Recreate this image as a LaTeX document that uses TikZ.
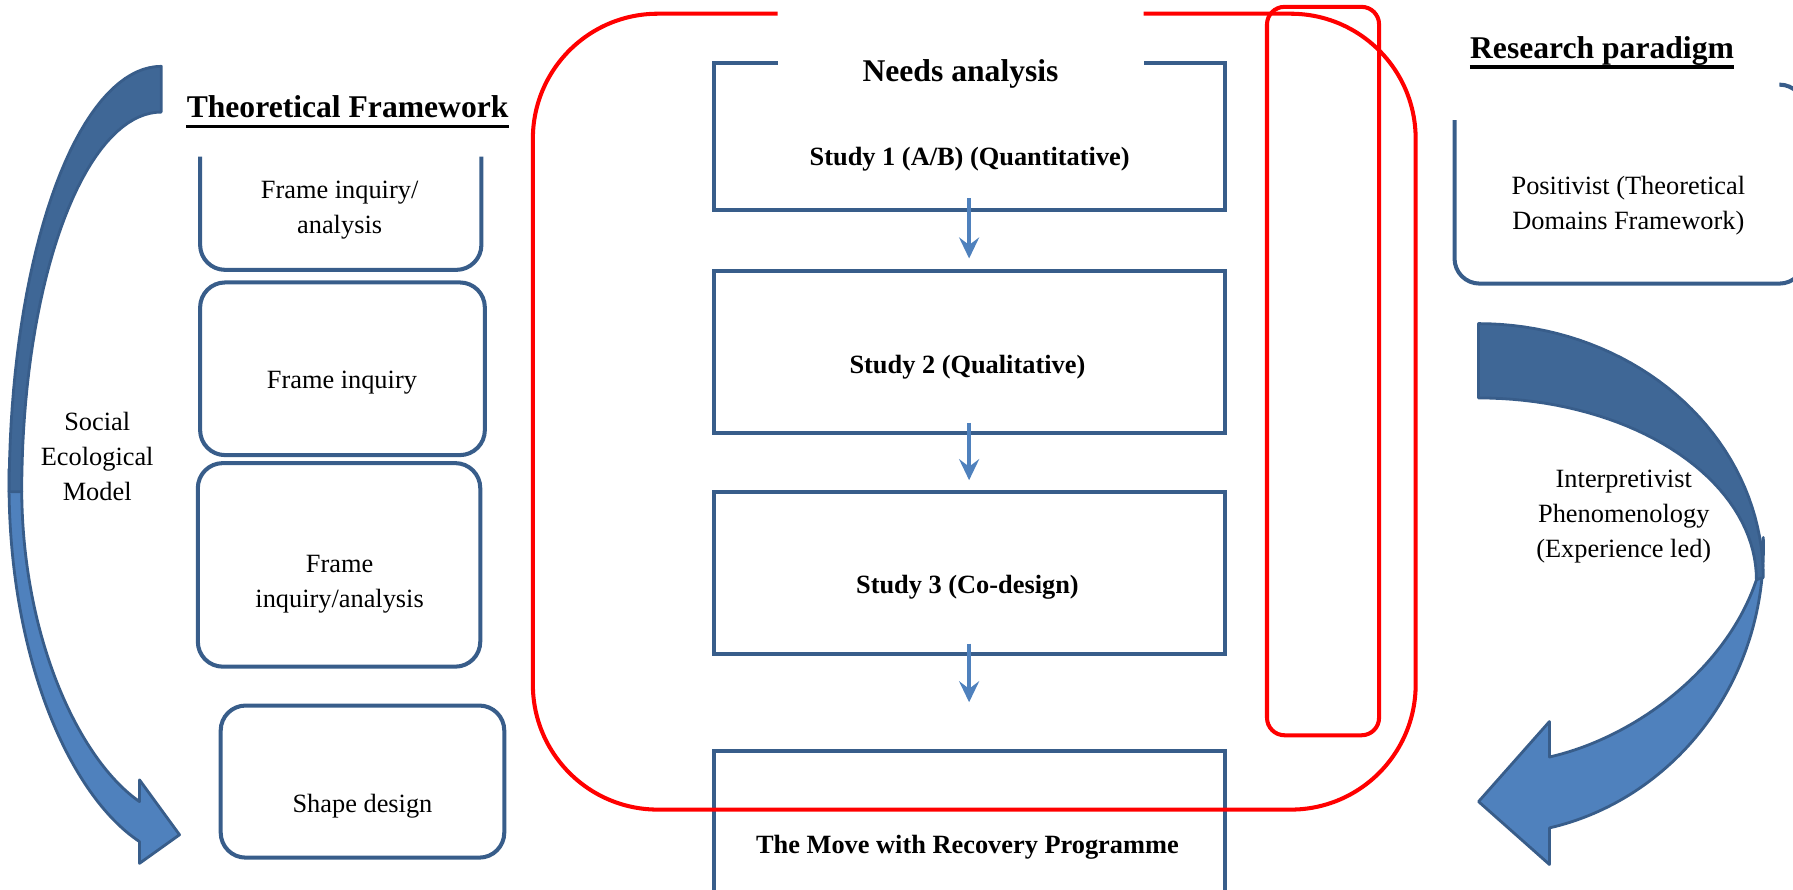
\documentclass[tikz,border=0pt]{standalone}
\usepackage{fontspec}
\setmainfont{Liberation Serif}
\usetikzlibrary{arrows.meta,fit}

\definecolor{boxblue}{RGB}{56,93,138}
\definecolor{arrowlight}{RGB}{79,129,189}
\definecolor{arrowdark}{RGB}{63,103,150}

\tikzset{
    outline/.style={draw=boxblue, line width=2.3pt},
    framebox/.style={outline, rounded corners=0.5cm, inner sep=0pt},
    studybox/.style={outline, inner sep=0pt},
    plainbox/.style={inner sep=0pt},
    bodytext/.style={font=\fontsize{15}{20}\selectfont, align=center},
    boldtext/.style={font=\fontsize{15}{20}\selectfont\bfseries, anchor=base},
    headtext/.style={font=\fontsize{18}{22}\selectfont\bfseries, anchor=base, inner sep=0pt},
    flowarrow/.style={draw=arrowlight, line width=2.2pt, -{Stealth[length=0.42cm,width=0.4cm,inset=0.15cm]}},
    redline/.style={draw=red, line width=2.3pt},
    bigarrow/.style={draw=boxblue, line width=1.6pt, line join=round},
}

\begin{document}
\begin{tikzpicture}[x=0.022867cm, y=-0.022867cm]
    \useasboundingbox (0,0) rectangle (1568,778);
    \clip (0,0) rectangle (1568,778);

    \filldraw[bigarrow, fill=arrowlight] (8,410) .. controls (5,570) and (60,695) .. (122,736) -- (122,755) -- (157,730) -- (122,682) -- (122,701) .. controls (70,665) and (20,560) .. (19,430) -- cycle;
    \filldraw[bigarrow, fill=arrowdark] plot[domain=-90:-180, samples=40, variable=\t] ({141+133*cos(\t)},{430+372*sin(\t)}) -- plot[domain=-180:-90, samples=40, variable=\t] ({141+122*cos(\t)},{430+332*sin(\t)}) -- cycle;
    \node[bodytext] (sem) at (85,399) {Social\\Ecological\\Model};

    \node[headtext] (tfhead) at (304,103) {Theoretical Framework};
    \draw[line width=2pt] ([yshift=-5pt]tfhead.base west) -- ([yshift=-5pt]tfhead.base east);
    \draw[outline, rounded corners=0.5cm] (175,137) -- (175,236) -- (421,236) -- (421,137);
    \node[bodytext] (f1t) at (297,184) {Frame inquiry/\\analysis};
    \node[framebox, fit={(175,247) (424,398)}] (f2) {};
    \node[bodytext] (f2t) at (299,335) {Frame inquiry};
    \node[framebox, fit={(173,405) (420,583)}] (f3) {};
    \node[bodytext] (f3t) at (297,511) {Frame\\inquiry/analysis};
    \node[framebox, fit={(193,617) (441,750)}] (f4) {};
    \node[bodytext] (f4t) at (317,705) {Shape design};

    \node[plainbox, fit={(624,55) (1071,184)}] (s1) {};
    \draw[outline] (680,55) -- (624,55) -- (624,184) -- (1071,184) -- (1071,55) -- (1000,55);
    \node[font=\fontsize{18}{22}\selectfont\bfseries, anchor=base] (needs) at (840,71.5) {Needs analysis};
    \node[boldtext] (s1t) at (848,145) {Study 1 (A/B) (Quantitative)};
    \node[studybox, fit={(624,237) (1071,379)}] (s2) {};
    \node[boldtext] (s2t) at (846,327) {Study 2 (Qualitative)};
    \node[studybox, fit={(624,430) (1071,572)}] (s3) {};
    \node[boldtext] (s3t) at (846,519) {Study 3 (Co-design)};
    \node[studybox, fit={(624,657) (1071,800)}] (s4) {};
    \node[boldtext] (s4t) at (846,746) {The Move with Recovery Programme};
    \foreach \a/\b/\e in {s1/s2/0.21cm, s2/s3/0.19cm, s3/s4/0.94cm}
        {\draw[flowarrow] ([yshift=0.25cm]\a.south) -- ([yshift=\e]\b.north);}

    \draw[redline, rounded corners=2.5cm] (680,12) -- (466,12) -- (466,708) -- (1238,708) -- (1238,12) -- (1000,12);
    \draw[redline, rounded corners=0.35cm] (1108,6) rectangle (1206,643);

    \node[headtext] (rphead) at (1401,51) {Research paradigm};
    \draw[line width=2pt] ([yshift=-5pt]rphead.base west) -- ([yshift=-5pt]rphead.base east);
    \draw[outline, rounded corners=0.5cm] (1556,74) -- (1578,74) -- (1578,248) -- (1272,248) -- (1272,105);
    \node[bodytext] (posit) at (1424,180) {Positivist (Theoretical\\Domains Framework)};

    \filldraw[bigarrow, fill=arrowlight] (1542,470) .. controls (1546,600) and (1460,700) .. (1355,724) -- (1355,756) -- (1293,701) -- (1355,631) -- (1355,662) .. controls (1430,645) and (1510,585) .. (1536,507) -- cycle;
    \filldraw[bigarrow, fill=arrowdark] plot[domain=-90:0, samples=40, variable=\t] ({1293+249*cos(\t)},{505+222*sin(\t)}) -- plot[domain=0:-90, samples=40, variable=\t] ({1293+243*cos(\t)},{507+159*sin(\t)}) -- cycle;
    \node[bodytext] (interp) at (1420,452) {Interpretivist\\Phenomenology\\(Experience led)};
\end{tikzpicture}
\end{document}
